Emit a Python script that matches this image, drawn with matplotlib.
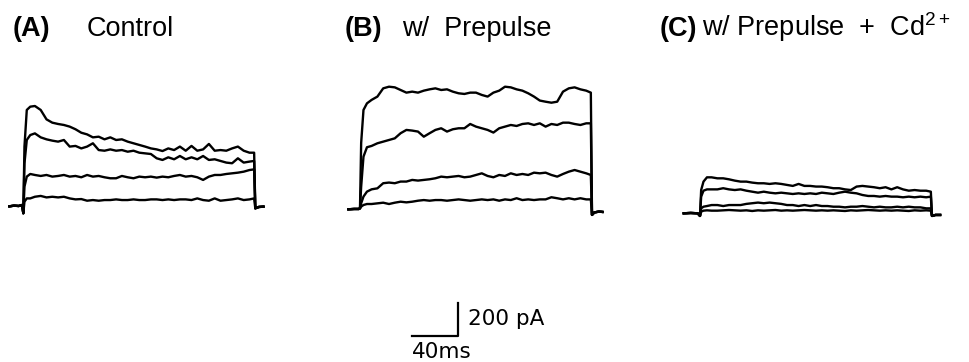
import matplotlib
matplotlib.use('Agg')
import matplotlib.pyplot as plt

plt.rcParams['font.family'] = ['Liberation Sans', 'DejaVu Sans']
plt.rcParams['mathtext.fontset'] = 'custom'
plt.rcParams['mathtext.rm'] = 'Liberation Sans'
plt.rcParams['mathtext.default'] = 'rm'

# time points during the test pulse (ms)
t_pulse = [0, 1, 3, 6, 10, 15, 20, 25, 30, 35, 40, 45, 50, 55, 60, 65, 70, 75,
           80, 85, 90, 95, 100, 105, 110, 115, 120, 125, 130, 135, 140, 145,
           150, 155, 160, 165, 170, 175, 180, 185, 190, 195, 199]

# (A) Control, currents in pA at t_pulse[1:]
a_pre_t = [-12, -8, -4, -1]
a_pre_i = [-8, -4, -6, 0]
a_onset = -50
a_post_t = [200, 203, 207]
a_post_i = [-20, -12, -10]
a1 = [354, 576, 596, 600, 576, 519, 499, 491, 485, 475, 459, 438, 428, 410, 414,
      398, 410, 394, 398, 384, 374, 364, 354, 343, 337, 327, 343, 333, 354, 329,
      358, 329, 337, 370, 329, 333, 329, 343, 354, 329, 317, 317]
a2 = [252, 394, 424, 434, 410, 398, 390, 384, 394, 354, 358, 343, 354, 374, 333,
      329, 337, 329, 333, 323, 329, 317, 313, 309, 283, 273, 289, 277, 297, 277,
      289, 277, 297, 273, 277, 267, 257, 253, 283, 257, 263, 267]
a3 = [111, 172, 188, 182, 176, 182, 172, 176, 182, 172, 176, 168, 182, 172, 176,
      168, 162, 162, 176, 168, 162, 172, 168, 172, 166, 172, 168, 176, 182, 172,
      176, 168, 152, 172, 182, 182, 188, 192, 196, 202, 212, 216]
a4 = [20, 40, 40, 50, 55, 46, 50, 46, 50, 40, 34, 36, 26, 30, 26, 30, 30, 34, 30,
      30, 34, 30, 30, 34, 34, 30, 34, 30, 34, 34, 30, 40, 30, 26, 40, 26, 30, 34,
      40, 30, 34, 40]

# (B) w/ Prepulse
b_pre_t = [-10, -5, -1]
b_pre_i = [-6, -4, -4]
b_onset = 0
b_post_t = [200, 202, 206, 209]
b_post_i = [-40, -25, -20, -22]
b1 = [396, 596, 636, 657, 677, 727, 737, 733, 717, 701, 707, 701, 713, 721, 727,
      717, 721, 707, 697, 693, 701, 701, 687, 677, 701, 713, 737, 733, 721, 713,
      697, 677, 653, 646, 640, 646, 707, 727, 733, 721, 713, 701]
b2 = [131, 313, 370, 378, 394, 404, 414, 424, 455, 475, 471, 465, 434, 455, 475,
      485, 465, 479, 485, 485, 511, 495, 485, 475, 459, 485, 495, 505, 499, 511,
      515, 505, 515, 495, 511, 505, 519, 519, 511, 505, 515, 515]
b3 = [30, 71, 101, 115, 121, 152, 156, 152, 162, 162, 172, 168, 172, 176, 182,
      192, 188, 192, 196, 188, 192, 202, 212, 196, 188, 202, 196, 212, 202, 208,
      202, 216, 212, 216, 202, 192, 208, 222, 232, 222, 212, 202]
b4 = [10, 20, 26, 26, 30, 34, 26, 34, 40, 36, 40, 46, 50, 46, 50, 50, 46, 50, 54,
      50, 46, 50, 54, 50, 54, 46, 54, 50, 61, 50, 54, 50, 54, 54, 67, 61, 54, 61,
      54, 61, 54, 54]

# (C) w/ Prepulse + Cd2+
c_pre_t = [-14, -8, -2]
c_pre_i = [0, 2, 0]
c_onset = -16
c_post_t = [200, 203, 207]
c_post_i = [-16, -10, -10]
c1 = [141, 192, 218, 218, 212, 212, 206, 198, 192, 192, 186, 182, 182, 178, 182,
      178, 172, 166, 178, 166, 166, 162, 162, 158, 152, 152, 145, 141, 162, 166,
      162, 158, 152, 158, 145, 158, 145, 137, 141, 137, 137, 131]
c2 = [101, 137, 145, 145, 145, 152, 145, 141, 145, 137, 131, 125, 131, 125, 121,
      125, 121, 117, 121, 117, 121, 117, 125, 121, 117, 125, 131, 125, 121, 111,
      105, 105, 101, 105, 101, 101, 97, 101, 97, 101, 97, 101]
c3 = [30, 40, 44, 50, 50, 44, 50, 50, 50, 57, 61, 65, 61, 65, 61, 57, 50, 50, 44,
      50, 44, 50, 44, 44, 40, 40, 36, 40, 40, 44, 40, 36, 40, 36, 36, 40, 36, 40,
      36, 36, 30, 30]
c4 = [10, 16, 18, 16, 16, 18, 20, 18, 16, 18, 14, 18, 16, 18, 20, 16, 18, 16, 18,
      20, 18, 16, 18, 16, 18, 16, 14, 18, 16, 18, 20, 18, 16, 18, 16, 18, 16, 14,
      18, 16, 18, 16]

titles = [('(A)', 'Control'), ('(B)', 'w/  Prepulse'), ('(C)', 'w/ Prepulse  +  Cd$^{2+}$')]

W, H = 969, 362
PX_MS = 1.16     # pixels per ms
PX_PA = 0.165    # pixels per pA

fig = plt.figure(figsize=(W / 100, H / 100), dpi=100)


def px_axes(left, right, top, bottom, x0, y0):
    # axes placed in pixel box, data origin (0 ms, 0 pA) at pixel (x0, y0)
    ax = fig.add_axes([left / W, 1 - bottom / H, (right - left) / W, (bottom - top) / H])
    ax.set_xlim((left - x0) / PX_MS, (right - x0) / PX_MS)
    ax.set_ylim((y0 - bottom) / PX_PA, (y0 - top) / PX_PA)
    ax.axis('off')
    return ax


panels = [
    (0, 300, 23.3, 205.0, a_pre_t, a_pre_i, a_onset, a_post_t, a_post_i, [a1, a2, a3, a4]),
    (330, 640, 360.0, 208.3, b_pre_t, b_pre_i, b_onset, b_post_t, b_post_i, [b1, b2, b3, b4]),
    (670, 969, 700.0, 213.3, c_pre_t, c_pre_i, c_onset, c_post_t, c_post_i, [c1, c2, c3, c4]),
]

for left, right, x0, y0, pre_t, pre_i, onset, post_t, post_i, traces in panels:
    ax = px_axes(left, right, 50, 260, x0, y0)
    for tr in traces:
        tt = pre_t + t_pulse + post_t
        ii = pre_i + [onset] + tr + post_i
        ax.plot(tt, ii, color='black', lw=1.7, solid_joinstyle='round')

# panel titles
title_pos = [(13, 87), (345, 402), (660, 702)]
for (lab, txt), (xl, xt) in zip(titles, title_pos):
    fig.text(xl / W, 1 - 36 / H, lab, fontsize=19.5, fontweight='bold', va='baseline')
    fig.text(xt / W, 1 - 36 / H, txt, fontsize=19.5, va='baseline')

# scale bar
sb = px_axes(400, 570, 290, 362, 412, 336)
sb.plot([0, 40, 40], [0, 0, 200], color='black', lw=1.6)
sb.text(48, 103, '200 pA', fontsize=15.5, family=['DejaVu Sans'], va='center', ha='left')
sb.text(0, -100, '40ms', fontsize=15.5, family=['DejaVu Sans'], va='center', ha='left')

fig.savefig('out.png', dpi=100)
